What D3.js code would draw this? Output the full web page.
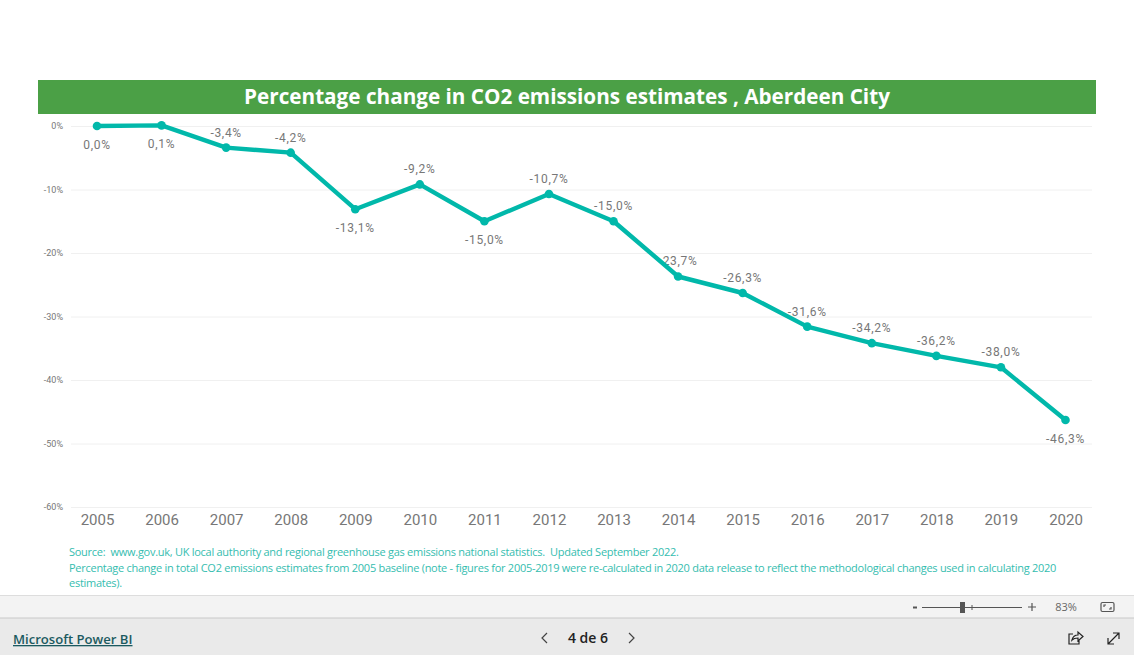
<!DOCTYPE html>
<html>
<head>
<meta charset="utf-8">
<title>CO2 emissions</title>
<script src="https://d3js.org/d3.v7.min.js"></script>
<style>
  html, body { margin: 0; padding: 0; background: #fff; overflow: hidden; }
  text { font-family: Roboto, sans-serif; }
</style>
</head>
<body>
<div id="chart"></div>
<script>
const years = ['2005', '2006', '2007', '2008', '2009', '2010', '2011', '2012', '2013', '2014', '2015', '2016', '2017', '2018', '2019', '2020']
const change = [0, 0.1, -3.4, -4.2, -13.1, -9.2, -15.0, -10.7, -15.0, -23.7, -26.3, -31.6, -34.2, -36.2, -38.0, -46.3]
const yTicks = [0, -10, -20, -30, -40, -50, -60]
const labelsBelow = ['2005', '2006', '2009', '2011', '2020']

const titleText = 'Percentage change in CO2 emissions estimates , Aberdeen City'
const noteLines = [
  'Source:  www.gov.uk, UK local authority and regional greenhouse gas emissions national statistics.  Updated September 2022.',
  'Percentage change in total CO2 emissions estimates from 2005 baseline (note - figures for 2005-2019 were re-calculated in 2020 data release to reflect the methodological changes used in calculating 2020',
  'estimates).'
]

const width = 1134
const height = 655
const uiFont = '"Open Sans", sans-serif'

const svg = d3.select('#chart').append('svg')
  .attr('width', width)
  .attr('height', height)
  .style('display', 'block')

// title band
svg.append('rect')
  .attr('x', 38).attr('y', 80)
  .attr('width', 1058).attr('height', 34)
  .attr('fill', '#4BA046')

svg.append('text')
  .attr('x', 567).attr('y', 104)
  .attr('text-anchor', 'middle')
  .attr('fill', '#fff')
  .style('font-family', uiFont)
  .style('font-size', '20.7px')
  .style('font-weight', 700)
  .text(titleText)

// scales
const x = d3.scalePoint().domain(years).range([97, 1065.5])
const y = d3.scaleLinear().domain([0, -60]).range([126, 507])

// y axis with gridlines
const yAxis = svg.append('g')
  .attr('transform', 'translate(71,0)')
  .call(d3.axisLeft(y).tickValues(yTicks).tickSize(-1021).tickPadding(8).tickFormat(d => d + '%'))

yAxis.select('.domain').remove()
yAxis.selectAll('.tick line').attr('stroke', '#f0f0f0')
yAxis.selectAll('.tick text')
  .attr('fill', '#777')
  .style('font-size', '9px')

// x axis
const xAxis = svg.append('g')
  .attr('transform', 'translate(0,507)')
  .call(d3.axisBottom(x).tickSize(0).tickPadding(7))

xAxis.select('.domain').remove()
xAxis.selectAll('.tick text')
  .attr('fill', '#777')
  .style('font-size', '15px')

// labels go under the line, it hides the minus of 2014 like the original
svg.selectAll('.value')
  .data(years)
  .enter()
  .append('text')
  .attr('class', 'value')
  .attr('x', d => x(d))
  .attr('y', (d, i) => y(change[i]) + (labelsBelow.includes(d) ? 23 : -11))
  .attr('text-anchor', 'middle')
  .attr('fill', '#777')
  .style('font-size', '12px')
  .style('letter-spacing', '0.7px')
  .text((d, i) => change[i].toFixed(1).replace('.', ',') + '%')

const line = d3.line()
  .x(d => x(d))
  .y((d, i) => y(change[i]))

svg.append('path')
  .datum(years)
  .attr('d', line)
  .attr('fill', 'none')
  .attr('stroke', '#01B8AA')
  .attr('stroke-width', 4.4)
  .attr('stroke-linejoin', 'round')

svg.selectAll('.point')
  .data(years)
  .enter()
  .append('circle')
  .attr('class', 'point')
  .attr('cx', d => x(d))
  .attr('cy', (d, i) => y(change[i]))
  .attr('r', 4.3)
  .attr('fill', '#01B8AA')

// source note
svg.selectAll('.note')
  .data(noteLines)
  .enter()
  .append('text')
  .attr('class', 'note')
  .attr('x', 69)
  .attr('y', (d, i) => 556 + i * 15.5)
  .attr('fill', '#35BDAF')
  .attr('xml:space', 'preserve')
  .style('white-space', 'pre')
  .style('font-family', uiFont)
  .style('font-size', '11px')
  .style('letter-spacing', '-0.27px')
  .text(d => d)

// power bi footer
svg.append('rect').attr('x', 0).attr('y', 595).attr('width', width).attr('height', 23).attr('fill', '#F3F3F3')
svg.append('rect').attr('x', 0).attr('y', 618).attr('width', width).attr('height', 37).attr('fill', '#EAEAEA')
svg.append('line').attr('x1', 0).attr('x2', width).attr('y1', 595.5).attr('y2', 595.5).attr('stroke', '#DDD')
svg.append('line').attr('x1', 0).attr('x2', width).attr('y1', 618).attr('y2', 618).attr('stroke', '#C8C8C8')

svg.append('text')
  .attr('x', 13).attr('y', 644)
  .attr('fill', '#1B5A60')
  .style('font-family', uiFont)
  .style('font-size', '13.1px')
  .style('font-weight', 600)
  .style('text-decoration', 'underline')
  .text('Microsoft Power BI')

svg.append('text')
  .attr('x', 588).attr('y', 643)
  .attr('text-anchor', 'middle')
  .attr('fill', '#222')
  .style('font-family', uiFont)
  .style('font-size', '14px')
  .style('font-weight', 600)
  .text('4 de 6')

svg.append('text')
  .attr('x', 1066).attr('y', 611)
  .attr('text-anchor', 'middle')
  .attr('fill', '#666')
  .style('font-family', uiFont)
  .style('font-size', '11px')
  .text('83%')

const icons = svg.append('g').attr('fill', 'none').attr('stroke', '#444').attr('stroke-width', 1.2)
// prev, next
icons.append('path').attr('d', 'M547 633l-5 5 5 5')
icons.append('path').attr('d', 'M629 633l5 5-5 5')
// zoom slider
icons.append('path').attr('stroke', '#555').attr('stroke-width', 1).attr('d', 'M922 607.500h100M972 605v5')
icons.append('path').attr('stroke', '#555').attr('stroke-width', 2).attr('d', 'M913 607.500h4')
icons.append('path').attr('stroke', '#555').attr('d', 'M1028 607h8M1032 603v8')
icons.append('rect').attr('x', 960).attr('y', 602).attr('width', 5).attr('height', 11).attr('fill', '#555').attr('stroke', 'none')
// fit to page
icons.append('rect').attr('x', 1101).attr('y', 602.5).attr('width', 13).attr('height', 9).attr('rx', 1.5).attr('stroke', '#555')
icons.append('path').attr('stroke', '#555').attr('d', 'M1104 607v-2h2M1111 607v2h-2')
// share
icons.append('path').attr('stroke', '#222').attr('d', 'M1073 634h-4v10h10v-4M1072 640c1-4 4-5 6-5v-3l5 4.500-5 4.500v-3c-2 0-4 0-6 2z')
// expand
icons.append('path').attr('stroke', '#222').attr('d', 'M1108 644l11-11M1113 633h6v6M1108 638v6h6')
</script>
</body>
</html>
